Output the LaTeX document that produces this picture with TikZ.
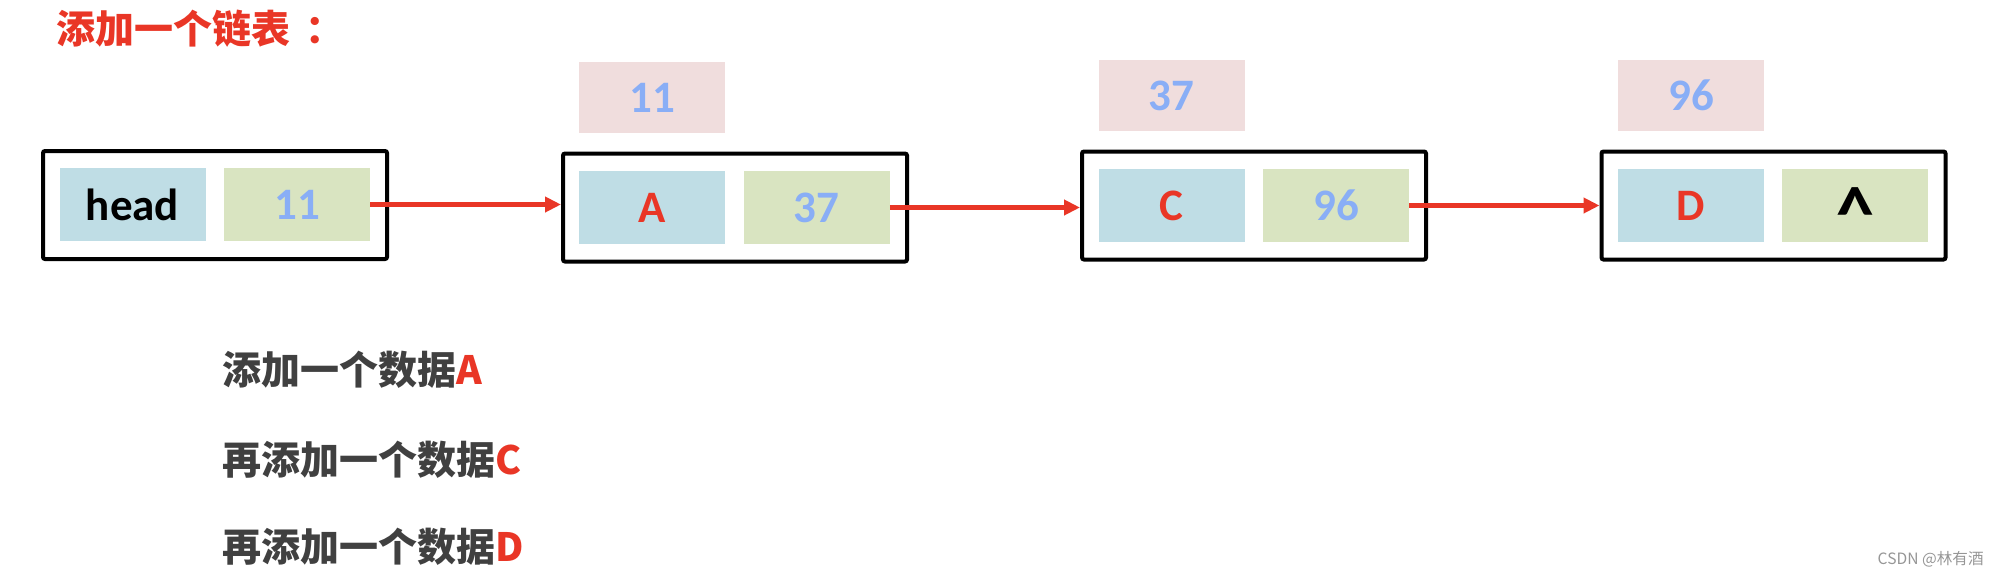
\documentclass[tikz,border=0pt]{standalone}
\usepackage{fontspec}
\usetikzlibrary{arrows.meta}
\newfontfamily\cjkfont{Noto Sans CJK SC}
\newfontfamily\latfont{Carlito}
\definecolor{boxblue}{RGB}{191,221,229}
\definecolor{boxgreen}{RGB}{217,228,193}
\definecolor{boxpink}{RGB}{240,221,221}
\definecolor{numblue}{RGB}{137,174,246}
\definecolor{myred}{RGB}{233,54,38}
\definecolor{textgray}{RGB}{64,64,64}
\definecolor{markgray}{RGB}{150,150,150}
\tikzset{
  frame/.style={draw=black, line width=2pt, rounded corners=1pt, minimum width=172pt, minimum height=54pt, inner sep=0pt},
  cell/.style={minimum width=73pt, minimum height=36.5pt, inner sep=0pt, font=\latfont\bfseries\fontsize{22.5}{24}\selectfont},
  bluecell/.style={cell, fill=boxblue},
  greencell/.style={cell, fill=boxgreen, text=numblue},
  pinkcell/.style={cell, fill=boxpink, text=numblue, minimum height=35.5pt},
  arr/.style={draw=myred, line width=2.3pt, -{Triangle[length=8pt,width=7.5pt]}},
  cjktext/.style={anchor=west, inner sep=0pt, font=\cjkfont\bfseries\fontsize{19.5}{22}\selectfont},
}
\begin{document}
\begin{tikzpicture}[x=0.5pt,y=-0.5pt]
\useasboundingbox (0,0) rectangle (1998,574);
% title
\node[cjktext, text=myred] (title) at (56,29) {添加一个链表\hspace{0.4em}：};
% frames
\node[frame] (h) at (215,205) {};
\node[frame] (a) at (735,207.5) {};
\node[frame] (c) at (1254,205.5) {};
\node[frame] (d) at (1773.5,205.5) {};
% cells
\node[bluecell] (hb) at (132.5,204.5) {head};
\node[greencell] (hg) at (297,204.5) {11};
\node[bluecell, text=myred] (ab) at (652,207.5) {A};
\node[greencell] (ag) at (816.5,207.5) {37};
\node[bluecell, text=myred] (cb) at (1171.5,205.5) {C};
\node[greencell] (cg) at (1336,205.5) {96};
\node[bluecell, text=myred] (db) at (1691,205.5) {D};
\node[greencell, text=black] (dg) at (1855,205.5) {\smash{\raisebox{-17pt}{\fontsize{38}{38}\selectfont\textasciicircum}}};
% pink
\node[pinkcell] (ap) at (652,97.5) {11};
\node[pinkcell] (cp) at (1171.5,95.5) {37};
\node[pinkcell] (dp) at (1691,95.5) {96};
% arrows
\draw[arr] (hg.east) -- (hg.east -| a.west);
\draw[arr] (ag.east) -- (ag.east -| c.west);
\draw[arr] (cg.east) -- (cg.east -| d.west);
% bottom text
\node[cjktext, text=textgray] (l1) at (222,370) {添加一个数据\textcolor{myred}{A}};
\node[cjktext, text=textgray] (l2) at (222,460) {再添加一个数据\textcolor{myred}{C}};
\node[cjktext, text=textgray] (l3) at (222,547) {再添加一个数据\textcolor{myred}{D}};
% watermark
\node[anchor=east, inner sep=0pt, text=markgray, font=\cjkfont\fontsize{7.8}{9}\selectfont] (wm) at (1984,559) {CSDN @林有酒};
\end{tikzpicture}
\end{document}
